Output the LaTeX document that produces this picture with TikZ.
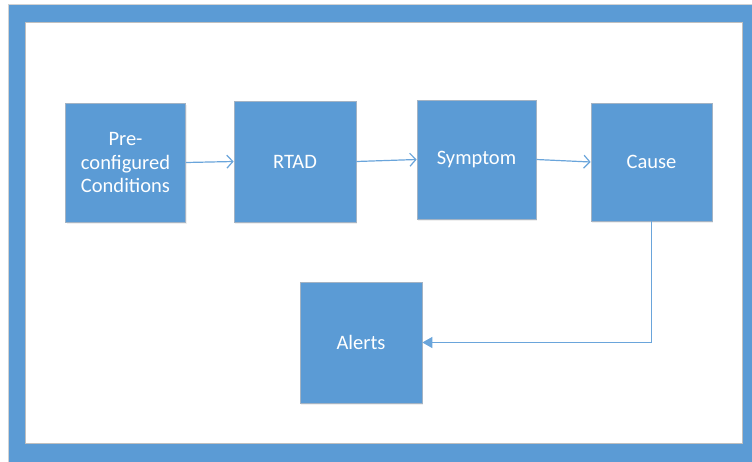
\documentclass[tikz,border=0pt]{standalone}
\usepackage{fontspec}
\setmainfont{Carlito}
\usetikzlibrary{arrows.meta,shadows}
\definecolor{obl}{HTML}{5B9BD5}
\definecolor{boxedge}{HTML}{A3B3C4}
\definecolor{lnk}{HTML}{6AA5DB}
\begin{document}
\begin{tikzpicture}[x=1pt,y=-1pt,
  blk/.style={draw=boxedge, line width=0.7pt, fill=obl, text=white, align=center,
    font=\fontsize{20.5}{23.5}\selectfont, inner sep=0pt,
    drop shadow={opacity=0.12, shadow xshift=1pt, shadow yshift=-2pt}},
  conn/.style={draw=lnk, line width=1.2pt, -{Straight Barb[length=6pt,width=13pt]}},
  conntri/.style={draw=lnk, line width=1.2pt, -{Triangle[length=10pt,width=11pt]}}]
\useasboundingbox (0,0) rectangle (752,461);
\fill[white] (0,0) rectangle (752,461);
\draw[fill=obl, draw=gray!35, line width=0.8pt] (8,4) rectangle (758,467);
\draw[fill=white, draw=gray!50, line width=0.8pt] (25,22) rectangle (742,443);
\node[blk, minimum width=120pt, minimum height=119pt] (pre) at (125.5,162.5) {Pre-\\configured\\Conditions};
\node[blk, minimum width=122pt, minimum height=121pt] (rtad) at (295,161.5) {RTAD};
\node[blk, minimum width=119pt, minimum height=119pt] (sym) at (476.5,159.5) {Symptom};
\node[blk, minimum width=121pt, minimum height=118pt] (cause) at (651.5,162) {Cause};
\node[blk, minimum width=122pt, minimum height=121pt] (alerts) at (361,342.5) {Alerts};
\draw[conn] (pre.east) -- (rtad.west);
\draw[conn] (rtad.east) -- (sym.west);
\draw[conn] (sym.east) -- (cause.west);
\draw[conntri] (cause.south) |- (alerts.east);
\end{tikzpicture}
\end{document}
